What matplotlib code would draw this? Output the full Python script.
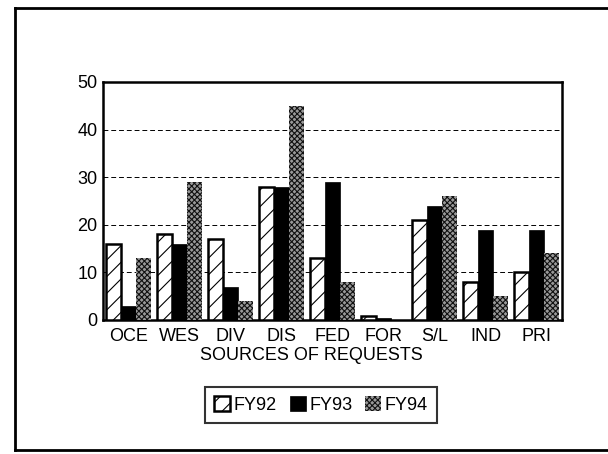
import numpy as np
import matplotlib
matplotlib.use('Agg')
import matplotlib.pyplot as plt
from matplotlib.lines import Line2D

categories = ['OCE', 'WES', 'DIV', 'DIS', 'FED', 'FOR', 'S/L', 'IND', 'PRI']
fy92 = [16, 18, 17, 28, 13, 0.8, 21, 8, 10]
fy93 = [3, 16, 7, 28, 29, 0.5, 24, 19, 19]
fy94 = [13, 29, 4, 45, 8, 0, 26, 5, 14]
series_labels = ['FY92', 'FY93', 'FY94']
y_ticks = [0, 10, 20, 30, 40, 50]

plt.rcParams['font.family'] = ['Liberation Sans', 'DejaVu Sans']
plt.rcParams['hatch.linewidth'] = 0.8

fig = plt.figure(figsize=(6.08, 4.54), dpi=100)

# outer page frame (open on the right)
fig.add_artist(Line2D([15 / 608, 15 / 608], [1 - 450 / 454, 1 - 8 / 454],
                      transform=fig.transFigure, color='black', lw=2))
fig.add_artist(Line2D([15 / 608, 1.0], [1 - 8 / 454, 1 - 8 / 454],
                      transform=fig.transFigure, color='black', lw=2))
fig.add_artist(Line2D([15 / 608, 1.0], [1 - 450 / 454, 1 - 450 / 454],
                      transform=fig.transFigure, color='black', lw=2))

ax = fig.add_axes([103 / 608, 1 - 320 / 454, (562 - 103) / 608, (320 - 82) / 454])

x = np.arange(len(categories))
w = 0.29
b1 = ax.bar(x - w, fy92, w, facecolor='white', edgecolor='black', hatch='//',
            linewidth=1.8, zorder=3, label=series_labels[0])
b2 = ax.bar(x, fy93, w, facecolor='black', edgecolor='black',
            linewidth=0.5, zorder=3, label=series_labels[1])
b3 = ax.bar(x + w, fy94, w, facecolor='#999999', edgecolor='#111111', hatch='xxxxxx',
            linewidth=0, zorder=3, label=series_labels[2])

ax.set_xlim(-0.5, len(categories) - 0.5)
ax.set_ylim(0, 50)
ax.set_yticks(y_ticks)
ax.set_yticklabels([str(t) for t in y_ticks], fontsize=13)
ax.set_xticks(x)
ax.set_xticklabels(categories, fontsize=13)
ax.tick_params(axis='x', length=0, pad=6)
ax.tick_params(axis='y', length=0, pad=4)
ax.yaxis.grid(True, linestyle=(0, (5, 3)), color='black', lw=0.7, zorder=1)
for s in ax.spines.values():
  s.set_linewidth(1.8)

ax.set_xlabel('SOURCES OF REQUESTS', fontsize=13)
ax.xaxis.set_label_coords((311 - 103) / (562 - 103), -(355 - 320) / (320 - 82), )
ax.xaxis.label.set_verticalalignment('center')

leg = fig.legend(handles=[b1, b2, b3], loc='center', bbox_to_anchor=(321 / 608, 1 - 405 / 454),
                 ncol=3, fontsize=13, frameon=True, fancybox=False, edgecolor='black',
                 handlelength=0.9, handleheight=0.9, handletextpad=0.2, columnspacing=0.7,
                 borderpad=0.5)
leg.get_frame().set_linewidth(1.5)

fig.savefig('out.png', dpi=100)
